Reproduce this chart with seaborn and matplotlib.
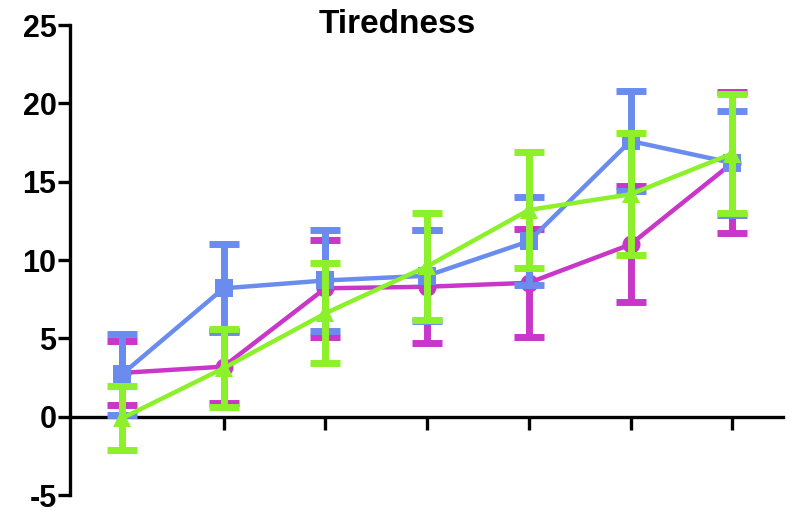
import matplotlib
matplotlib.use("Agg")
import matplotlib.pyplot as plt
import seaborn as sns
import pandas as pd
import numpy as np

# Data
timepoints = [1, 2, 3, 4, 5, 6, 7]
blue_mean = [2.7, 8.2, 8.7, 9.0, 11.2, 17.6, 16.2]
blue_err = [2.6, 2.8, 3.2, 2.9, 2.8, 3.2, 3.3]
magenta_mean = [2.8, 3.2, 8.2, 8.3, 8.55, 11.0, 16.2]
magenta_err = [2.05, 2.3, 3.1, 3.6, 3.45, 3.7, 4.5]
green_mean = [-0.1, 3.1, 6.6, 9.6, 13.2, 14.2, 16.8]
green_err = [2.05, 2.5, 3.2, 3.4, 3.7, 3.9, 3.8]
y_ticks = [-5, 0, 5, 10, 15, 20, 25]
title = "Tiredness"

series = [
    ("magenta", magenta_mean, magenta_err, "#c837c8", "o", 2),
    ("blue", blue_mean, blue_err, "#6a8cee", "s", 3),
    ("green", green_mean, green_err, "#8cf02a", "^", 4),
]

sns.set_style("white")
plt.rcParams['font.family'] = ['Liberation Sans', 'DejaVu Sans']
plt.rcParams['axes.unicode_minus'] = False

fig = plt.figure(figsize=(8, 5.12), dpi=100)
ax = fig.add_axes([0.088, 0.033, 0.891, 0.918])

rows = []
for name, m, e, c, mk, z in series:
    for t, v in zip(timepoints, m):
        rows.append({"t": t, "v": v, "s": name})
df = pd.DataFrame(rows)

for name, m, e, c, mk, z in series:
    ax.errorbar(timepoints, m, yerr=e, fmt="none", ecolor=c, elinewidth=5,
                capsize=11, capthick=5, zorder=z)
    sub = df[df.s == name]
    sns.lineplot(data=sub, x="t", y="v", ax=ax, color=c, linewidth=3.2,
                 marker=mk, markersize=13, markeredgewidth=0, zorder=z + 0.5,
                 legend=False)

ax.set_xlim(0.495, 7.5)
ax.set_ylim(-5, 25)
ax.set_yticks(y_ticks)
ax.set_xticks(timepoints)
ax.set_xticklabels([])
ax.set_xlabel("")
ax.set_ylabel("")

for side in ["top", "right"]:
    ax.spines[side].set_visible(False)
ax.spines["left"].set_linewidth(2.4)
ax.spines["bottom"].set_linewidth(2.4)
ax.spines["left"].set_color("black")
ax.spines["bottom"].set_color("black")
ax.spines["bottom"].set_position(("data", 0))

ax.tick_params(axis="y", left=True, direction="out", length=9, width=2.4,
               color="black", labelcolor="black", labelsize=22, pad=1)
ax.tick_params(axis="x", bottom=True, direction="out", length=9, width=2.4,
               color="black")
for lbl in ax.get_yticklabels():
    lbl.set_fontweight("bold")

fig.text(0.497, 0.953, title, ha="center", va="center", fontsize=24,
         fontweight="bold", color="black")

fig.savefig("out.png", dpi=100)
